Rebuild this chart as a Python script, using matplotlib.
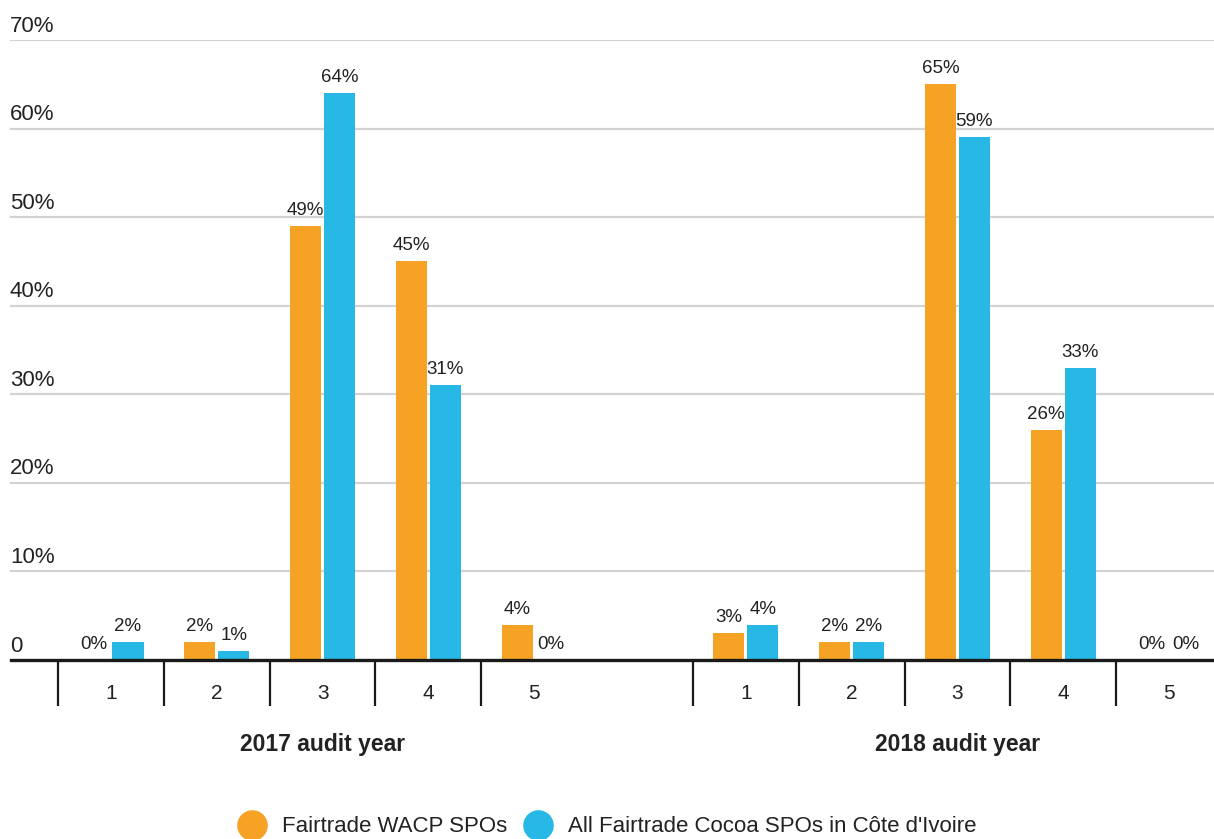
import numpy as np
import matplotlib
matplotlib.use("Agg")
import matplotlib.pyplot as plt
from matplotlib.lines import Line2D
import matplotlib.transforms as mtransforms

plt.rcParams['font.family'] = ['Liberation Sans', 'DejaVu Sans']

categories = ['1', '2', '3', '4', '5']
groups = ['2017 audit year', '2018 audit year']
wacp_2017 = [0, 2, 49, 45, 4]
civ_2017 = [2, 1, 64, 31, 0]
wacp_2018 = [3, 2, 65, 26, 0]
civ_2018 = [4, 2, 59, 33, 0]
series_names = ['Fairtrade WACP SPOs', "All Fairtrade Cocoa SPOs in Côte d'Ivoire"]
y_ticks = [0, 10, 20, 30, 40, 50, 60, 70]

ORANGE = '#F5A225'
BLUE = '#27B8E6'
TEXT = '#222222'
GRID = '#D3D3D3'

fig = plt.figure(figsize=(12.14, 8.39), dpi=100)
ax = fig.add_axes([0, 179 / 839, 1, 620 / 839])

# positions: group 1 at 0..4, group 2 at 6..10
pos1 = np.arange(len(categories))
pos2 = pos1 + len(categories) + 1
positions = np.concatenate([pos1, pos2])
wacp = wacp_2017 + wacp_2018
civ = civ_2017 + civ_2018

off = 0.16
w = 0.295
b1 = ax.bar(positions - off, wacp, width=w, color=ORANGE, zorder=3)
b2 = ax.bar(positions + off, civ, width=w, color=BLUE, zorder=3)

for bars, vals in [(b1, wacp), (b2, civ)]:
    for rect, v in zip(bars, vals):
        ax.annotate(f'{v}%', (rect.get_x() + rect.get_width() / 2, v),
                    xytext=(0, 5), textcoords='offset points',
                    ha='center', va='bottom', fontsize=13.5, color=TEXT)

ax.set_xlim(-1.049, 10.425)
ax.set_ylim(0, 70)

# gridlines and y labels
for t in y_ticks:
    if t > 0:
        ax.axhline(t, xmin=11 / 1214, color=GRID, linewidth=1.6, zorder=1)
    lab = f'{t}%' if t > 0 else '0'
    ax.annotate(lab, (10 / 1214, t), xycoords=('axes fraction', 'data'),
                xytext=(0, 2.5), textcoords='offset points',
                ha='left', va='bottom', fontsize=16, color=TEXT)

for s in ['top', 'right', 'left']:
    ax.spines[s].set_visible(False)
ax.spines['bottom'].set_linewidth(2.4)
ax.spines['bottom'].set_color('#1a1a1a')
ax.spines['bottom'].set_bounds(-0.945, 10.425)
ax.spines['bottom'].set_zorder(4)

ax.set_yticks([])
ax.set_xticks(positions)
ax.set_xticklabels(categories * 2)
ax.tick_params(axis='x', which='major', length=0, pad=17, labelsize=15, labelcolor=TEXT)
ax.set_xticks(np.concatenate([pos1 - 0.5, pos2 - 0.5]), minor=True)
ax.tick_params(axis='x', which='minor', length=33, width=1.6, color='#1a1a1a', direction='out')

trans = mtransforms.blended_transform_factory(ax.transData, ax.transAxes)
ax.text(pos1.mean(), -85 / 620, groups[0], transform=trans, ha='center', va='center',
        fontsize=16.5, fontweight='bold', color=TEXT)
ax.text(pos2.mean(), -85 / 620, groups[1], transform=trans, ha='center', va='center',
        fontsize=16.5, fontweight='bold', color=TEXT)

handles = [Line2D([], [], marker='o', linestyle='', markersize=21, color=ORANGE),
           Line2D([], [], marker='o', linestyle='', markersize=21, color=BLUE)]
leg = fig.legend(handles, series_names, loc='center', bbox_to_anchor=(0.5, 12 / 839),
                 ncol=2, frameon=False, fontsize=16, handletextpad=0.7,
                 columnspacing=0.7, handlelength=1.3)
for t in leg.get_texts():
    t.set_color(TEXT)

fig.savefig('out.png', dpi=100)
